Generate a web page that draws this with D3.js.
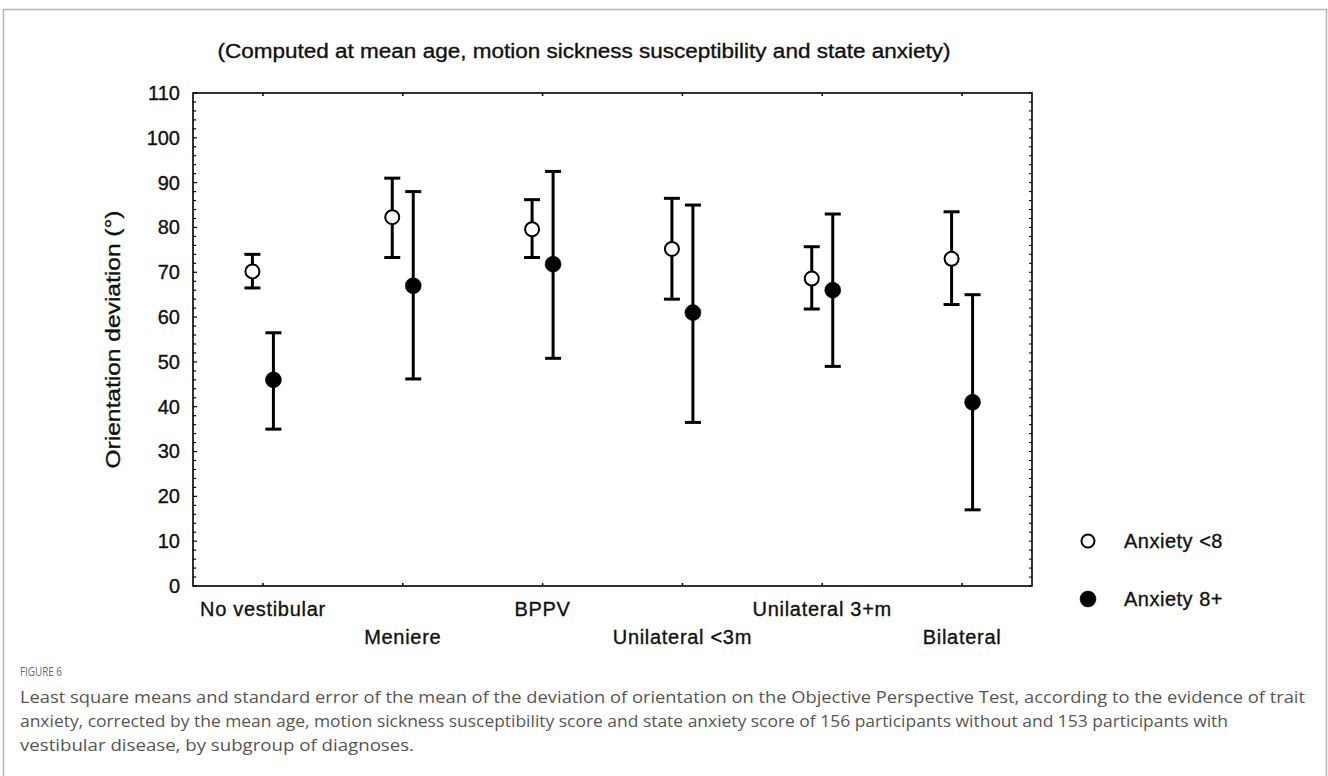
<!DOCTYPE html>
<html>
<head>
<meta charset="utf-8">
<script src="https://cdn.jsdelivr.net/npm/d3@7"></script>
<style>
  html, body { margin: 0; padding: 0; background: #fff; }
  svg { display: block; }
</style>
</head>
<body>
<svg id="chart" width="1328" height="776"></svg>
<script>
// ---------------- data ----------------
const categories = ["No vestibular", "Meniere", "BPPV", "Unilateral <3m", "Unilateral 3+m", "Bilateral"];
const labelRow = [0, 1, 0, 1, 0, 1];
const seriesNames = ["Anxiety <8", "Anxiety 8+"];
// Anxiety <8 (open circles)
const lowMean  = [70.2, 82.3, 79.6, 75.2, 68.6, 73.0];
const lowUpper = [74.0, 91.0, 86.2, 86.5, 75.7, 83.5];
const lowLower = [66.5, 73.3, 73.3, 64.0, 61.8, 62.8];
// Anxiety 8+ (filled circles)
const highMean  = [46.0, 67.0, 71.8, 61.0, 66.0, 41.0];
const highUpper = [56.5, 88.0, 92.5, 85.0, 83.0, 65.0];
const highLower = [35.0, 46.2, 50.8, 36.5, 49.0, 17.0];
const yTicks = [0, 10, 20, 30, 40, 50, 60, 70, 80, 90, 100, 110];
const yDomain = [0, 110];
const titleText = "(Computed at mean age, motion sickness susceptibility and state anxiety)";
const yLabel = "Orientation deviation (°)";
const figLabel = "FIGURE 6";
const captionLines = [
  "Least square means and standard error of the mean of the deviation of orientation on the Objective Perspective Test, according to the evidence of trait",
  "anxiety, corrected by the mean age, motion sickness susceptibility score and state anxiety score of 156 participants without and 153 participants with",
  "vestibular disease, by subgroup of diagnoses."
];

// ---------------- layout ----------------
const svg = d3.select("#chart");
const W = 1328, H = 776;
const plot = { left: 193, top: 93, right: 1032, bottom: 586 };
const font = "'Liberation Sans', Arial, sans-serif";
const capFont = "'Open Sans', 'Noto Sans', sans-serif";
const ink = "#111";

function heavy(sel) {
  return sel.attr("stroke", ink).attr("stroke-width", 0.35).attr("paint-order", "stroke");
}

// outer frame
svg.append("path")
  .attr("d", `M3.5,${H} V9.5 H${W - 1.5} V${H}`)
  .attr("fill", "none").attr("stroke", "#b4b4b4").attr("stroke-width", 1.5);

const x = d3.scalePoint().domain(categories).range([plot.left, plot.right]).padding(0.5);
const y = d3.scaleLinear().domain(yDomain).range([plot.bottom, plot.top]);

// title
heavy(svg.append("text")
  .attr("x", 584).attr("y", 58)
  .attr("text-anchor", "middle")
  .attr("font-family", font).attr("font-size", 20)
  .attr("textLength", 733).attr("lengthAdjust", "spacingAndGlyphs")
  .attr("fill", ink)
  .text(titleText));

// plot frame
svg.append("rect")
  .attr("x", plot.left).attr("y", plot.top)
  .attr("width", plot.right - plot.left).attr("height", plot.bottom - plot.top)
  .attr("fill", "none").attr("stroke", "#000").attr("stroke-width", 1.6);

// left axis: labels + inner ticks
const leftAxis = d3.axisLeft(y).tickValues(yTicks).tickSize(0).tickPadding(13);
const gL = svg.append("g").attr("transform", `translate(${plot.left},0)`).call(leftAxis);
gL.select(".domain").remove();
heavy(gL.selectAll("text").attr("font-family", font).attr("font-size", 20).attr("fill", ink));

const minor = d3.range(0, 111, 2);
svg.append("g").selectAll("line").data(minor).join("line")
  .attr("x1", plot.left).attr("x2", d => plot.left + (d % 10 === 0 ? 4 : 3))
  .attr("y1", d => y(d)).attr("y2", d => y(d))
  .attr("stroke", "#000").attr("stroke-width", 1.2);

// right axis inner ticks
const rightTicks = d3.range(0, 111, 2);
svg.append("g").selectAll("line").data(rightTicks).join("line")
  .attr("x1", plot.right).attr("x2", plot.right - 3)
  .attr("y1", d => y(d)).attr("y2", d => y(d))
  .attr("stroke", "#000").attr("stroke-width", 1);

// top and bottom category ticks (inside)
svg.append("g").selectAll("line").data(categories).join("line")
  .attr("x1", d => x(d)).attr("x2", d => x(d))
  .attr("y1", plot.top).attr("y2", plot.top + 3)
  .attr("stroke", "#000").attr("stroke-width", 1.5);
svg.append("g").selectAll("line").data(categories).join("line")
  .attr("x1", d => x(d)).attr("x2", d => x(d))
  .attr("y1", plot.bottom).attr("y2", plot.bottom - 3)
  .attr("stroke", "#000").attr("stroke-width", 1.5);

// category labels (staggered)
heavy(svg.append("g").selectAll("text").data(categories).join("text")
  .attr("x", d => x(d))
  .attr("y", (d, i) => labelRow[i] === 0 ? 616 : 644)
  .attr("text-anchor", "middle")
  .attr("font-family", font).attr("font-size", 20).attr("fill", ink)
  .attr("letter-spacing", 0.7)
  .text(d => d));

// y axis title
heavy(svg.append("text")
  .attr("transform", `translate(120,${(plot.top + plot.bottom) / 2}) rotate(-90)`)
  .attr("text-anchor", "middle")
  .attr("font-family", font).attr("font-size", 20).attr("fill", ink)
  .attr("textLength", 258).attr("lengthAdjust", "spacingAndGlyphs")
  .text(yLabel));

// series
const series = [
  { name: seriesNames[0], mean: lowMean, up: lowUpper, lo: lowLower, dx: -10.5, filled: false },
  { name: seriesNames[1], mean: highMean, up: highUpper, lo: highLower, dx: 10.5, filled: true }
];
const capHalf = 8;
series.forEach(s => {
  const g = svg.append("g");
  const rows = categories.map((c, i) => ({ c, m: s.mean[i], u: s.up[i], l: s.lo[i] }));
  g.selectAll("line.bar").data(rows).join("line").attr("class", "bar")
    .attr("x1", d => x(d.c) + s.dx).attr("x2", d => x(d.c) + s.dx)
    .attr("y1", d => y(d.u)).attr("y2", d => y(d.l))
    .attr("stroke", "#000").attr("stroke-width", 3);
  g.selectAll("line.capu").data(rows).join("line").attr("class", "capu")
    .attr("x1", d => x(d.c) + s.dx - capHalf).attr("x2", d => x(d.c) + s.dx + capHalf)
    .attr("y1", d => y(d.u)).attr("y2", d => y(d.u))
    .attr("stroke", "#000").attr("stroke-width", 3);
  g.selectAll("line.capl").data(rows).join("line").attr("class", "capl")
    .attr("x1", d => x(d.c) + s.dx - capHalf).attr("x2", d => x(d.c) + s.dx + capHalf)
    .attr("y1", d => y(d.l)).attr("y2", d => y(d.l))
    .attr("stroke", "#000").attr("stroke-width", 3);
  g.selectAll("circle").data(rows).join("circle")
    .attr("cx", d => x(d.c) + s.dx).attr("cy", d => y(d.m))
    .attr("r", s.filled ? 8 : 7)
    .attr("fill", s.filled ? "#000" : "#fff")
    .attr("stroke", "#000").attr("stroke-width", s.filled ? 0.5 : 2);
});

// legend
const legend = svg.append("g");
series.forEach((s, i) => {
  const ly = 541 + i * 58;
  legend.append("circle")
    .attr("cx", 1088).attr("cy", ly)
    .attr("r", s.filled ? 8 : 6.5)
    .attr("fill", s.filled ? "#000" : "#fff")
    .attr("stroke", "#000").attr("stroke-width", s.filled ? 0.5 : 2);
  heavy(legend.append("text")
    .attr("x", 1124).attr("y", ly + 7)
    .attr("font-family", font).attr("font-size", 20).attr("fill", ink)
    .attr("letter-spacing", 0.5)
    .text(s.name));
});

// caption
svg.append("text")
  .attr("x", 20).attr("y", 676)
  .attr("font-family", capFont).attr("font-size", 13).attr("fill", "#6a6a6a")
  .attr("textLength", 42).attr("lengthAdjust", "spacingAndGlyphs")
  .text(figLabel);
const capLens = [1285, 1208, 394];
svg.append("g").selectAll("text").data(captionLines).join("text")
  .attr("x", 20).attr("y", (d, i) => 703 + i * 24)
  .attr("font-family", capFont).attr("font-size", 17).attr("fill", "#555")
  .attr("textLength", (d, i) => capLens[i]).attr("lengthAdjust", "spacingAndGlyphs")
  .text(d => d);
</script>
</body>
</html>
